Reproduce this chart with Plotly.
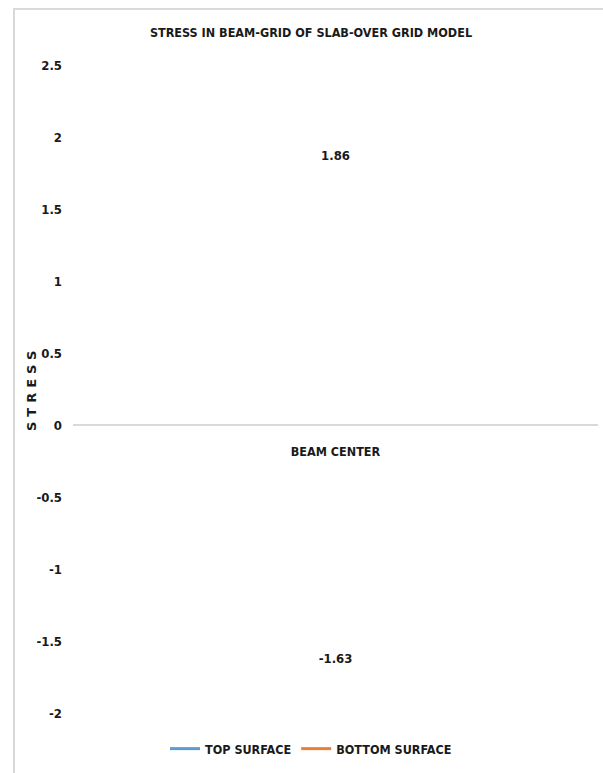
import plotly.graph_objects as go

# Chart data
categories = ["BEAM CENTER"]
top_surface = [1.86]
bottom_surface = [-1.63]
series_names = ["TOP SURFACE", "BOTTOM SURFACE"]
series_colors = ["#5b9bd5", "#ed7d31"]
y_tickvals = [2.5, 2, 1.5, 1, 0.5, 0, -0.5, -1, -1.5, -2]
y_ticktext = ["2.5", "2", "1.5", "1", "0.5", "0", "-0.5", "-1", "-1.5", "-2"]

COND = "DejaVu Sans Condensed, Liberation Sans, sans-serif"
TXT = "#1a1a1a"


def bold_font(size, family=COND):
    return dict(family=family, size=size, color=TXT, weight="bold")


fig = go.Figure()
for name, vals, col in zip(series_names, [top_surface, bottom_surface], series_colors):
    fig.add_trace(go.Scatter(
        x=categories, y=vals, name=name, mode="lines",
        line=dict(color=col, width=3),
    ))
    # value labels centred on the points
    fig.add_trace(go.Scatter(
        x=categories, y=vals, mode="text", showlegend=False,
        text=[f"{v:.2f}" for v in vals], textposition="middle center",
        textfont=bold_font(13),
        hoverinfo="skip",
    ))

fig.update_layout(
    width=603, height=773,
    margin=dict(l=73, r=5, t=65, b=60),
    paper_bgcolor="white", plot_bgcolor="white",
    title=dict(
        text="STRESS IN BEAM-GRID OF SLAB-OVER GRID MODEL",
        font=bold_font(12.5),
        x=311 / 603, xanchor="center", xref="container",
        y=1 - 33 / 773, yanchor="middle",
    ),
    xaxis=dict(
        type="category", range=[-0.5, 0.5],
        anchor="free", position=2 / 4.5,
        showline=True, linecolor="#d9d9d9", linewidth=1.5,
        showgrid=False, zeroline=False, ticks="",
        ticklabelstandoff=15,
        tickfont=bold_font(12.5),
    ),
    yaxis=dict(
        range=[-2, 2.5], tickvals=y_tickvals, ticktext=y_ticktext,
        showgrid=False, zeroline=False, showline=False, ticks="",
        ticklabelstandoff=10,
        tickfont=bold_font(13),
    ),
    annotations=[dict(
        text='<span style="letter-spacing:5px">STRESS</span>',
        textangle=-90, showarrow=False,
        xref="paper", yref="paper", x=(31 - 73) / 525, y=0.5,
        xanchor="center", yanchor="middle",
        font=bold_font(13, "DejaVu Sans, sans-serif"),
    )],
    showlegend=True,
    legend=dict(
        orientation="h", x=(311 - 73) / 525, xanchor="center",
        y=-36 / 648, yanchor="middle",
        font=bold_font(12.5),
        itemwidth=30,
    ),
    shapes=[dict(
        type="rect", xref="paper", yref="paper",
        x0=(14 - 73) / 525, x1=1.1, y0=-0.2, y1=(713 - 9) / 648,
        line=dict(color="#d9d9d9", width=2), fillcolor="rgba(0,0,0,0)", layer="below",
    )],
)

fig.write_html("out.html")
